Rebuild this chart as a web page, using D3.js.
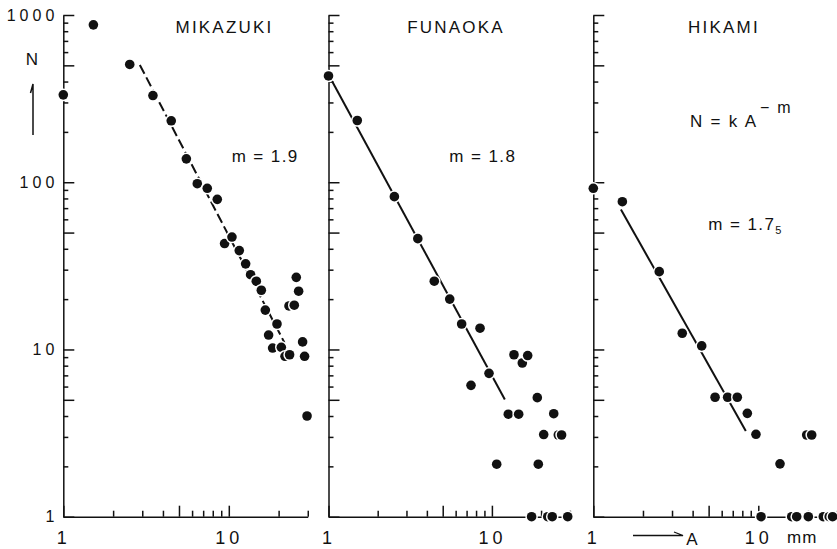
<!DOCTYPE html>
<html>
<head>
<meta charset="utf-8">
<script src="https://cdn.jsdelivr.net/npm/d3@7"></script>
<style>
body { margin: 0; background: #fff; }
svg text { font-family: "Liberation Sans", Arial, sans-serif; fill: #111; }
</style>
</head>
<body>
<div id="chart"></div>
<script>
// values (A in mm, N = count)
var sites = ["MIKAZUKI", "FUNAOKA", "HIKAMI"];

var mikazukiA = [1, 1.52, 2.52, 3.48, 4.49, 5.54, 6.45, 7.41, 8.52, 9.43, 10.45, 11.57, 12.64, 13.54, 14.66, 15.72, 16.62, 17.4, 18.4, 19.55, 20.76, 21.86, 23.3, 23.11, 24.87, 25.57, 26.42, 27.92, 28.7, 29.7];
var mikazukiN = [333, 873, 506, 330, 233, 138, 98, 92, 79, 43, 47, 39, 32.5, 28, 25.6, 22.6, 17.2, 12.2, 10.2, 14.2, 10.3, 9.1, 9.3, 18.2, 18.4, 27, 22.3, 11.1, 9.1, 4.0];

var funaokaA = [1, 1.5, 2.53, 3.52, 4.44, 5.52, 6.53, 8.46, 7.45, 9.6, 10.7, 12.6, 13.65, 14.58, 15.35, 16.56, 17.5, 18.96, 19.23, 20.75, 21.96, 23.4, 23.9, 25.5, 26.7, 29.1];
var funaokaN = [432, 234, 82, 46, 25.6, 20, 14.2, 13.4, 6.1, 7.2, 2.06, 4.1, 9.3, 4.1, 8.3, 9.2, 1, 5.15, 2.06, 3.1, 1, 1, 4.13, 3.08, 3.08, 1];

var hikamiA = [1, 1.5, 2.51, 3.46, 4.54, 5.47, 6.52, 7.46, 8.58, 9.68, 13.54, 19.65, 21.07, 10.39, 15.94, 17.09, 20.1, 24.77, 26.9, 28.2];
var hikamiN = [92, 76.5, 29.2, 12.5, 10.5, 5.18, 5.18, 5.18, 4.15, 3.11, 2.07, 3.08, 3.08, 1, 1, 1, 1, 1, 1, 1];

// fitted N = k A^-m
var fitM = [1.9, 1.8, 1.75];
var fitK = [3800, 440, 135];
var fitFrom = [2.9, 1.04, 1.47];
var fitTo = [21.7, 12, 8.4];

var yLabels = [1, 10, 100, 1000];
var xLabels = [1, 10];
var xMinor = [2, 3, 4, 6, 7, 8, 9, 20, 30];
var xMajor = [1, 5, 10];
var yMinor = [2, 3, 4, 6, 7, 8, 9, 20, 30, 40, 60, 70, 80, 90, 200, 300, 400, 600, 700, 800, 900];
var yMajor = [1, 5, 10, 50, 100, 500, 1000];

var WIDTH = 837, HEIGHT = 549;
var panelX = [63.3, 328.5, 593.3];
var decadePx = [165.5, 163.4, 165];
var yBottom = 516.7, yTop = 15;
var ink = "#111";

var svg = d3.select("#chart").append("svg")
	.attr("width", WIDTH)
	.attr("height", HEIGHT);

var y = d3.scaleLog().domain([1, 1000]).range([yBottom, yTop]);

var allA = [mikazukiA, funaokaA, hikamiA];
var allN = [mikazukiN, funaokaN, hikamiN];

var titleX = [224.5, 456, 724];
var slopeX = [231.7, 449.3, 708.3];
var slopeY = [161.7, 161.7, 230];

sites.forEach(function (name, i) {
	var x = d3.scaleLog().domain([1, 30])
		.range([panelX[i], panelX[i] + decadePx[i] * Math.log10(30)]);
	var g = svg.append("g").attr("color", ink);

	// x axis, ticks pointing up
	var xa = g.append("g").attr("transform", "translate(0," + yBottom + ")");
	xa.call(d3.axisBottom(x).tickValues(xMinor).tickSize(-6).tickSizeOuter(0).tickFormat(""));
	var xb = g.append("g").attr("transform", "translate(0," + yBottom + ")");
	xb.call(d3.axisBottom(x).tickValues(xMajor).tickSize(-11).tickPadding(15)
		.tickFormat(function (d) { return xLabels.indexOf(d) >= 0 ? d : ""; }));
	xb.select(".domain").remove();
	xb.selectAll("text").style("font-size", "18px").style("letter-spacing", "4px").attr("font-family", null);

	// y axis, ticks pointing right
	var ya = g.append("g").attr("transform", "translate(" + panelX[i] + ",0)");
	ya.call(d3.axisLeft(y).tickValues(yMinor).tickSize(-5).tickSizeOuter(0).tickFormat(""));
	var yb = g.append("g").attr("transform", "translate(" + panelX[i] + ",0)");
	yb.call(d3.axisLeft(y).tickValues(yMajor).tickSize(-11).tickPadding(5)
		.tickFormat(function (d) { return (i == 0 && yLabels.indexOf(d) >= 0) ? d : ""; }));
	yb.select(".domain").remove();
	yb.selectAll("text").style("font-size", "16px").style("letter-spacing", "4px").attr("font-family", null);

	g.selectAll("path, line").attr("stroke-width", 1.5);

	// fitted line
	var fit = [fitFrom[i], fitTo[i]].map(function (a) { return [a, fitK[i] * Math.pow(a, -fitM[i])]; });
	g.append("path")
		.datum(fit)
		.attr("d", d3.line().x(function (d) { return x(d[0]); }).y(function (d) { return y(d[1]); }))
		.attr("fill", "none")
		.attr("stroke", ink)
		.attr("stroke-width", 2)
		.attr("stroke-dasharray", i == 0 ? "10,4" : null);

	// dots with a white rim
	g.selectAll(".dot")
		.data(d3.zip(allA[i], allN[i]))
		.join("circle")
		.attr("class", "dot")
		.attr("cx", function (d) { return x(d[0]); })
		.attr("cy", function (d) { return y(d[1]); })
		.attr("r", 4.8)
		.attr("fill", ink)
		.attr("stroke", "#fff")
		.attr("stroke-width", 3)
		.attr("paint-order", "stroke");

	g.append("text")
		.attr("x", titleX[i])
		.attr("y", 33)
		.attr("text-anchor", "middle")
		.style("font-size", "17px")
		.style("letter-spacing", "2.2px")
		.text(name);

	var s = g.append("text")
		.attr("x", slopeX[i])
		.attr("y", slopeY[i])
		.style("font-size", "17px")
		.style("letter-spacing", "1.4px");
	if (i == 2) {
		s.append("tspan").text("m = 1.7");
		s.append("tspan").attr("dy", 4).style("font-size", "11px").text("5");
	} else {
		s.text("m = " + fitM[i]);
	}
});

// N with arrow
svg.append("text").attr("x", 32).attr("y", 65).attr("text-anchor", "middle")
	.style("font-size", "17px").text("N");
svg.append("path").attr("d", "M33,135V84L30.5,93")
	.attr("fill", "none").attr("stroke", ink).attr("stroke-width", 1.5);

// formula
var f = svg.append("text").attr("x", 690).attr("y", 126.7)
	.style("font-size", "17px").style("letter-spacing", "1.8px");
f.append("tspan").text("N = k A");
f.append("tspan").attr("dy", -14).attr("dx", 2).style("font-size", "16px").text("\u2212 m");

// A arrow and unit
svg.append("path").attr("d", "M633,535.5H683L674,532")
	.attr("fill", "none").attr("stroke", ink).attr("stroke-width", 1.3);
svg.append("text").attr("x", 692).attr("y", 545).attr("text-anchor", "middle")
	.style("font-size", "17px").text("A");
svg.append("text").attr("x", 787).attr("y", 543)
	.style("font-size", "17px").style("letter-spacing", "1px").text("mm");
</script>
</body>
</html>
